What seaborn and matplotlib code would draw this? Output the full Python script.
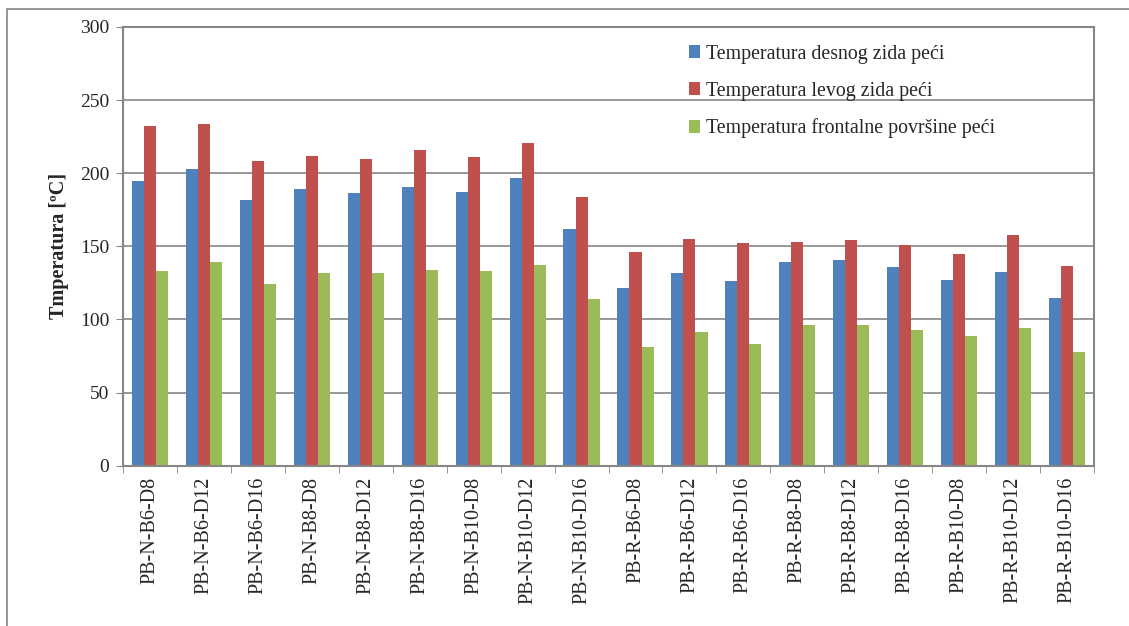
import pandas as pd
import numpy as np
import matplotlib
matplotlib.use('Agg')
import matplotlib.pyplot as plt
import seaborn as sns
from matplotlib.lines import Line2D

# Podaci
uzorci = ['PB-N-B6-D8', 'PB-N-B6-D12', 'PB-N-B6-D16', 'PB-N-B8-D8', 'PB-N-B8-D12',
          'PB-N-B8-D16', 'PB-N-B10-D8', 'PB-N-B10-D12', 'PB-N-B10-D16',
          'PB-R-B6-D8', 'PB-R-B6-D12', 'PB-R-B6-D16', 'PB-R-B8-D8', 'PB-R-B8-D12',
          'PB-R-B8-D16', 'PB-R-B10-D8', 'PB-R-B10-D12', 'PB-R-B10-D16']
desni_zid = [195, 203, 182, 189, 186.5, 190.5, 187, 196.5, 162,
             121.5, 131.5, 126, 139, 140.5, 136, 127, 132.5, 114.5]
levi_zid = [232, 233.5, 208, 211.5, 210, 216, 211, 220.5, 184,
            146, 155, 152.5, 153, 154.5, 151, 145, 158, 136.5]
frontalna = [133, 139, 124.5, 131.5, 131.5, 133.5, 133, 137, 114,
             81, 91.5, 83.5, 96.5, 96.5, 92.5, 88.5, 94, 77.5]
serije = ['Temperatura desnog zida peći', 'Temperatura levog zida peći',
          'Temperatura frontalne površine peći']
boje = ['#4F81BD', '#C0504D', '#9BBB59']

df = pd.DataFrame({
    'uzorak': uzorci * 3,
    'serija': [serije[0]] * 18 + [serije[1]] * 18 + [serije[2]] * 18,
    'temp': desni_zid + levi_zid + frontalna,
})

sns.set_style('white')
plt.rcParams['font.family'] = ['Liberation Serif', 'DejaVu Serif']

fig, ax = plt.subplots(figsize=(11.29, 6.26), dpi=100)
fig.subplots_adjust(left=0.109, right=0.969, top=0.957, bottom=0.256)

sns.barplot(data=df, x='uzorak', y='temp', hue='serija', palette=boje,
            width=0.67, gap=0, saturation=1, edgecolor='none', ax=ax, errorbar=None)

ax.set_ylim(0, 300)
ax.set_xlim(-0.5, len(uzorci) - 0.5)
ax.set_yticks(np.arange(0, 301, 50))
ax.yaxis.grid(True, color='#868686', linewidth=1.2)
ax.set_axisbelow(True)
for s in ax.spines.values():
    s.set_color('#868686')
    s.set_linewidth(1.5)

ax.tick_params(axis='y', labelsize=14, length=5, color='#868686', direction='out', left=True, pad=5)
ax.tick_params(axis='x', labelsize=14.5, rotation=90, length=0, pad=8)
ax.set_xticks(np.arange(-0.5, len(uzorci)), minor=True)
ax.tick_params(axis='x', which='minor', length=5, color='#868686', bottom=True)

ax.set_xlabel('')
ax.set_ylabel('Tmperatura [ºC]', fontsize=14.5, fontweight='bold', labelpad=8)

ax.legend(loc='upper left', bbox_to_anchor=(0.564, 1.0), frameon=False, fontsize=14.3,
          handlelength=0.6, handleheight=0.6, handletextpad=0.3, labelspacing=0.9)

# okvir grafikona (samo gore i levo)
fig.add_artist(Line2D([0.006, 1.0], [0.986, 0.986], transform=fig.transFigure,
                      color='#868686', linewidth=1.2))
fig.add_artist(Line2D([0.006, 0.006], [0.0, 0.986], transform=fig.transFigure,
                      color='#868686', linewidth=1.2))

fig.savefig('out.png', dpi=100)
